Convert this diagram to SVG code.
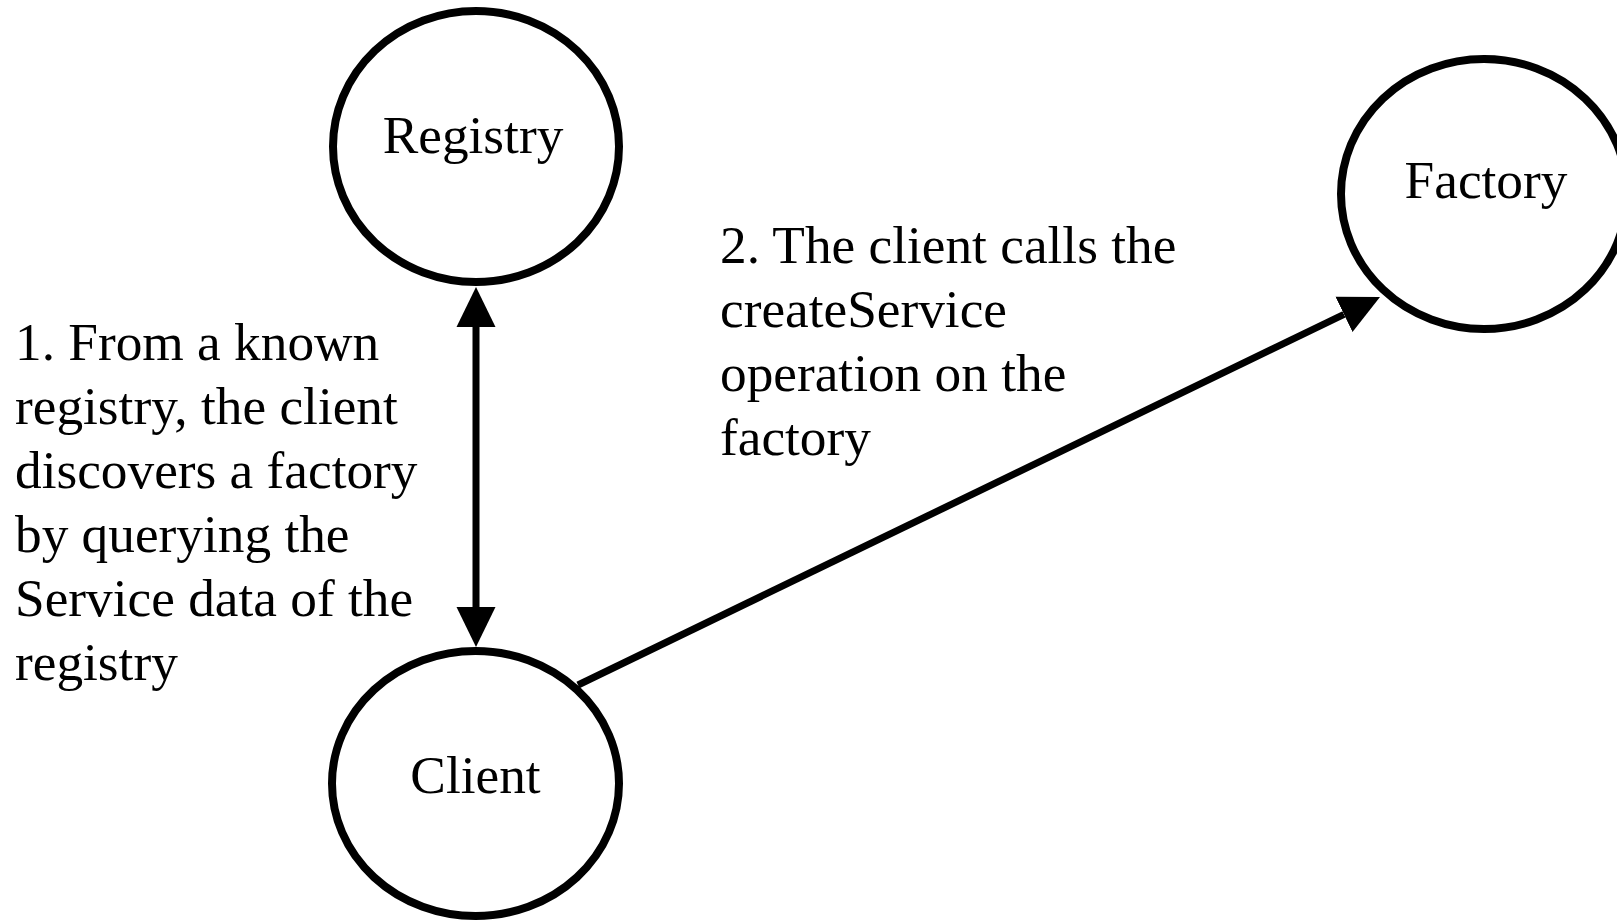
<svg xmlns="http://www.w3.org/2000/svg" width="1617" height="923" viewBox="0 0 1617 923">
<style>
.node{fill:#ffffff;stroke:#000000;stroke-width:8}
.lbl{font-family:"Liberation Serif","Times New Roman",serif;font-size:53.3px;fill:#000000}
.mid{text-anchor:middle}
.edge{stroke:#000000;stroke-width:7;fill:none}
</style>
<defs>
<marker id="arrow" viewBox="0 0 40 40" markerWidth="40" markerHeight="40" markerUnits="userSpaceOnUse" refX="0" refY="20" orient="auto-start-reverse">
<path d="M0,0.5 L40,20 L0,39.5 Z" fill="#000000"/>
</marker>
</defs>
<rect width="1617" height="923" fill="#ffffff"/>
<g id="registry">
<ellipse class="node" cx="476" cy="146.5" rx="143" ry="135.5"/>
<text class="lbl mid" x="473" y="153">Registry</text>
</g>
<g id="client">
<ellipse class="node" cx="475.5" cy="783.5" rx="143.5" ry="132.5"/>
<text class="lbl mid" x="475.5" y="793">Client</text>
</g>
<g id="factory">
<ellipse class="node" cx="1484" cy="194" rx="143" ry="135"/>
<text class="lbl mid" x="1486" y="198">Factory</text>
</g>
<g id="connectors">
<line class="edge" x1="476" y1="327" x2="476" y2="607" marker-start="url(#arrow)" marker-end="url(#arrow)"/>
<line class="edge" x1="578" y1="685" x2="1344" y2="314.4" marker-end="url(#arrow)"/>
</g>
<g id="label1">
<text class="lbl" x="15" y="360">1. From a known</text>
<text class="lbl" x="15" y="424">registry, the client</text>
<text class="lbl" x="15" y="488">discovers a factory</text>
<text class="lbl" x="15" y="552">by querying the</text>
<text class="lbl" x="15" y="616">Service data of the</text>
<text class="lbl" x="15" y="680">registry</text>
</g>
<g id="label2">
<text class="lbl" x="720" y="263">2. The client calls the</text>
<text class="lbl" x="720" y="327">createService</text>
<text class="lbl" x="720" y="391">operation on the</text>
<text class="lbl" x="720" y="455">factory</text>
</g>
</svg>
